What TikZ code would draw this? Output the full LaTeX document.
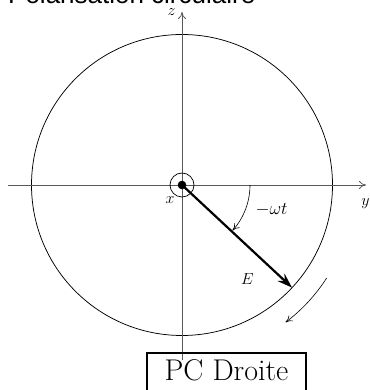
\RequirePackage{fix-cm}
\documentclass[tikz,border=0pt]{standalone}
\usepackage{fontspec}
\newfontfamily\titlefont{Liberation Sans}
\usetikzlibrary{arrows.meta}
\begin{document}
\begin{tikzpicture}[x=1pt,y=1pt,
  axis/.style={draw=black!65, line width=0.8pt, -{To[length=7pt,width=8pt]}},
  lbl/.style={font=\fontsize{16}{18}\selectfont, inner sep=0pt},
  thinarrow/.style={line width=0.6pt, -{To[length=7pt,width=7pt]}}]
\useasboundingbox (-182,-205) rectangle (187,185);
% title (cut off at top)
\node[anchor=base west, inner sep=0pt, font=\titlefont\fontsize{26}{30}\selectfont] (title) at (-174,181) {Polarisation circulaire};
% circle
\node[draw, circle, minimum size=301pt, line width=0.75pt, inner sep=0pt] (circ) at (0,0) {};
% axes
\coordinate (O) at (0,0);
\coordinate (ybot) at (0,-175);
\coordinate (ztop) at (0,173);
\coordinate (yleft) at (-174,0);
\coordinate (yright) at (184,0);
\draw[axis] (ybot) -- (ztop);
\draw[axis] (yleft) -- (yright);
% x axis symbol
\node[draw, circle, minimum size=24pt, inner sep=0pt, line width=0.7pt] (xsym) at (O) {};
\fill (O) circle (4.3pt);
% E vector
\coordinate (Eend) at (-43:150.5);
\draw[line width=2.2pt, -{Stealth[length=15pt,width=10pt]}] (O) -- (Eend);
% angle arc
\draw[thinarrow] (68,0) arc[start angle=0, end angle=-42, radius=68];
% rotation arrow
\draw[thinarrow] (-32.7:172) arc[start angle=-32.7, end angle=-53, radius=172];
% labels
\node[lbl] (zl) at (-10.5,172.5) {$z$};
\node[lbl] (xl) at (-12,-15) {$x$};
\node[lbl, anchor=base] (yl) at (183.5,-21) {$y$};
\node[lbl, anchor=base, font=\fontsize{18}{20}\selectfont] (wl) at (89.5,-30) {$-\omega t$};
\node[lbl, anchor=base] (El) at (65.5,-99) {$E$};
% box
\node[draw, line width=1.6pt, anchor=north, minimum width=159pt, inner xsep=0pt,
  inner ysep=7pt, text depth=10pt, font=\fontsize{30}{36}\selectfont] (box) at (44.5,-167) {PC Droite};
\end{tikzpicture}
\end{document}
